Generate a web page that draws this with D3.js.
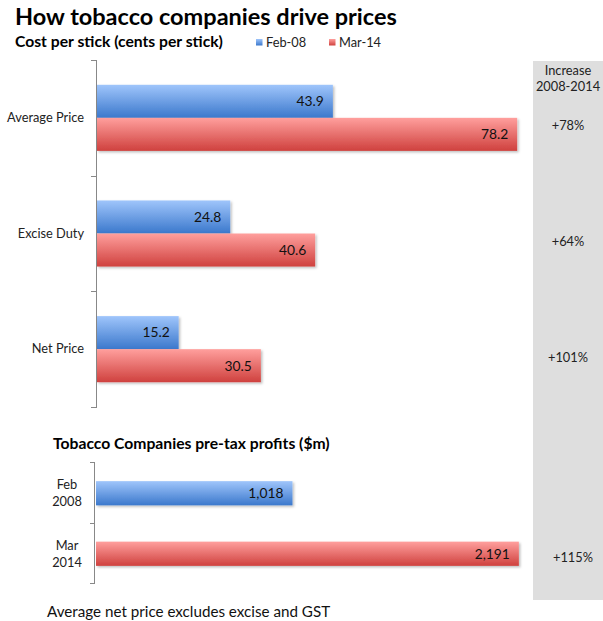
<!DOCTYPE html>
<html><head><meta charset="utf-8">
<script src="https://cdn.jsdelivr.net/npm/d3@7"></script>
<style>body{margin:0;background:#fff}svg{display:block}text{font-family:Lato,"Open Sans",sans-serif}</style>
</head><body><svg id="c" width="603" height="621"></svg>
<script>
const categories = ["Average Price", "Excise Duty", "Net Price"];
const seriesNames = ["Feb-08", "Mar-14"];
const feb08 = [43.9, 24.8, 15.2];
const mar14 = [78.2, 40.6, 30.5];
const increases = ["+78%", "+64%", "+101%"];
const profitCats = ["Feb 2008", "Mar 2014"];
const profits = [1018, 2191];
const profitIncrease = "+115%";

const svg = d3.select("#c");
const defs = svg.append("defs");
function grad(id, top, bot) {
  const g = defs.append("linearGradient").attr("id", id).attr("x1", 0).attr("y1", 0).attr("x2", 0).attr("y2", 1);
  g.append("stop").attr("offset", "0%").attr("stop-color", top);
  g.append("stop").attr("offset", "100%").attr("stop-color", bot);
}
grad("gb", "#9fc5fb", "#3b78cc");
grad("gr", "#ff9f9d", "#cf413e");
const f = defs.append("filter").attr("id", "sh").attr("x", "-5%").attr("y", "-20%").attr("width", "110%").attr("height", "150%");
f.append("feDropShadow").attr("dx", 1.5).attr("dy", 1.5).attr("stdDeviation", 1).attr("flood-color", "#000").attr("flood-opacity", 0.25);
const fills = ["url(#gb)", "url(#gr)"];

// gray panel
svg.append("rect").attr("x", 533).attr("y", 61).attr("width", 70).attr("height", 539).attr("fill", "#dedede");
svg.append("text").attr("x", 568).attr("y", 75).attr("text-anchor", "middle").attr("font-size", 12.8).attr("fill", "#222").text("Increase");
svg.append("text").attr("x", 568).attr("y", 91).attr("text-anchor", "middle").attr("font-size", 12.8).attr("fill", "#222").text("2008-2014");

// titles
svg.append("text").attr("x", 15).attr("y", 25).attr("font-size", 23.5).attr("font-weight", "bold").attr("fill", "#000").text("How tobacco companies drive prices");
svg.append("text").attr("x", 15).attr("y", 47).attr("font-size", 15.7).attr("font-weight", "bold").attr("fill", "#000").text("Cost per stick (cents per stick)");

// legend
const lg = svg.append("g");
[[256, 266], [329, 339]].forEach((p, i) => {
  lg.append("rect").attr("x", p[0]).attr("y", 39).attr("width", 6.5).attr("height", 6.5).attr("fill", fills[i]);
  lg.append("text").attr("x", p[1]).attr("y", 47).attr("font-size", 12.8).attr("fill", "#222").text(seriesNames[i]);
});

// top chart
const x = d3.scaleLinear().domain([0, 80]).range([97, 97 + 80 * 5.373]);
const y0 = d3.scaleBand().domain(categories).range([60, 407]);
const y1 = d3.scaleBand().domain(seriesNames).range([0, y0.bandwidth()]).paddingOuter(0.75);

const axL = svg.append("g").attr("transform", "translate(97,0)")
  .call(d3.axisLeft(y0).tickSize(0).tickPadding(13));
axL.select(".domain").remove();
axL.selectAll("text").attr("font-size", 12.8).attr("fill", "#222").attr("font-family", "Lato");
const topG = svg.append("g");
topG.append("line").attr("x1", 96.5).attr("x2", 96.5).attr("y1", y0.range()[0]).attr("y2", y0.range()[1]).attr("stroke", "#888");
const bounds = categories.map(c => y0(c)).concat([y0.range()[1]]);
topG.selectAll("line.t").data(bounds).join("line").attr("class", "t")
  .attr("x1", 91).attr("x2", 97).attr("y1", d => Math.round(d) + 0.5).attr("y2", d => Math.round(d) + 0.5).attr("stroke", "#888");

const rows = [];
categories.forEach((c, i) => { rows.push({c, s: 0, v: feb08[i]}); rows.push({c, s: 1, v: mar14[i]}); });
const bg = svg.append("g");
bg.selectAll("rect").data(rows).join("rect")
  .attr("x", x(0)).attr("y", d => y0(d.c) + y1(seriesNames[d.s]))
  .attr("width", d => x(d.v) - x(0)).attr("height", y1.bandwidth())
  .attr("fill", d => fills[d.s]).attr("filter", "url(#sh)");
bg.selectAll("text").data(rows).join("text")
  .attr("x", d => x(d.v) - 9).attr("y", d => y0(d.c) + y1(seriesNames[d.s]) + y1.bandwidth() / 2)
  .attr("dy", "0.35em").attr("text-anchor", "end").attr("font-size", 13.8).attr("fill", "#111")
  .text(d => d.v.toFixed(1));
svg.append("g").selectAll("text").data(categories).join("text")
  .attr("x", 568).attr("y", d => y0(d) + y0.bandwidth() / 2 + 8).attr("dy", "0.35em")
  .attr("text-anchor", "middle").attr("font-size", 12.8).attr("fill", "#222")
  .text((d, i) => increases[i]);

// bottom chart
svg.append("text").attr("x", 53).attr("y", 449).attr("font-size", 15.7).attr("font-weight", "bold").attr("fill", "#000").text("Tobacco Companies pre-tax profits ($m)");
const x2 = d3.scaleLinear().domain([0, 2500]).range([96, 96 + 2500 * 0.193]);
const yb = d3.scaleBand().domain(profitCats).range([462, 583]);
const barH = yb.bandwidth() * 0.4;
const botG = svg.append("g");
botG.append("line").attr("x1", 94.5).attr("x2", 94.5).attr("y1", 462).attr("y2", 583).attr("stroke", "#888");
botG.selectAll("line.t").data(profitCats.map(c => yb(c)).concat([583])).join("line").attr("class", "t")
  .attr("x1", 90).attr("x2", 95).attr("y1", d => Math.round(d) + 0.5).attr("y2", d => Math.round(d) + 0.5).attr("stroke", "#888");
botG.selectAll("rect").data(profits).join("rect")
  .attr("x", x2(0)).attr("y", (d, i) => yb(profitCats[i]) + (yb.bandwidth() - barH) / 2 + 1)
  .attr("width", d => x2(d) - x2(0)).attr("height", barH)
  .attr("fill", (d, i) => fills[i]).attr("filter", "url(#sh)");
botG.selectAll("text.v").data(profits).join("text").attr("class", "v")
  .attr("x", d => x2(d) - 9).attr("y", (d, i) => yb(profitCats[i]) + yb.bandwidth() / 2 + 1)
  .attr("dy", "0.35em").attr("text-anchor", "end").attr("font-size", 13.8).attr("fill", "#111")
  .text(d => d3.format(",")(d));
botG.selectAll("text.c").data(profitCats).join("text").attr("class", "c")
  .attr("x", 67).attr("y", d => yb(d) + yb.bandwidth() / 2)
  .attr("text-anchor", "middle").attr("font-size", 12.8).attr("fill", "#222")
  .each(function(d) {
    const parts = d.split(" ");
    d3.select(this).selectAll("tspan").data(parts).join("tspan")
      .attr("x", 67).attr("dy", (p, j) => j === 0 ? "-0.25em" : "1.35em").text(p => p);
  });
svg.append("text").attr("x", 573).attr("y", yb(profitCats[1]) + yb.bandwidth() / 2 + 5).attr("dy", "0.35em")
  .attr("text-anchor", "middle").attr("font-size", 12.8).attr("fill", "#222").text(profitIncrease);

svg.append("text").attr("x", 47).attr("y", 617).attr("font-size", 15.2).attr("fill", "#111").text("Average net price excludes excise and GST");
</script></body></html>
